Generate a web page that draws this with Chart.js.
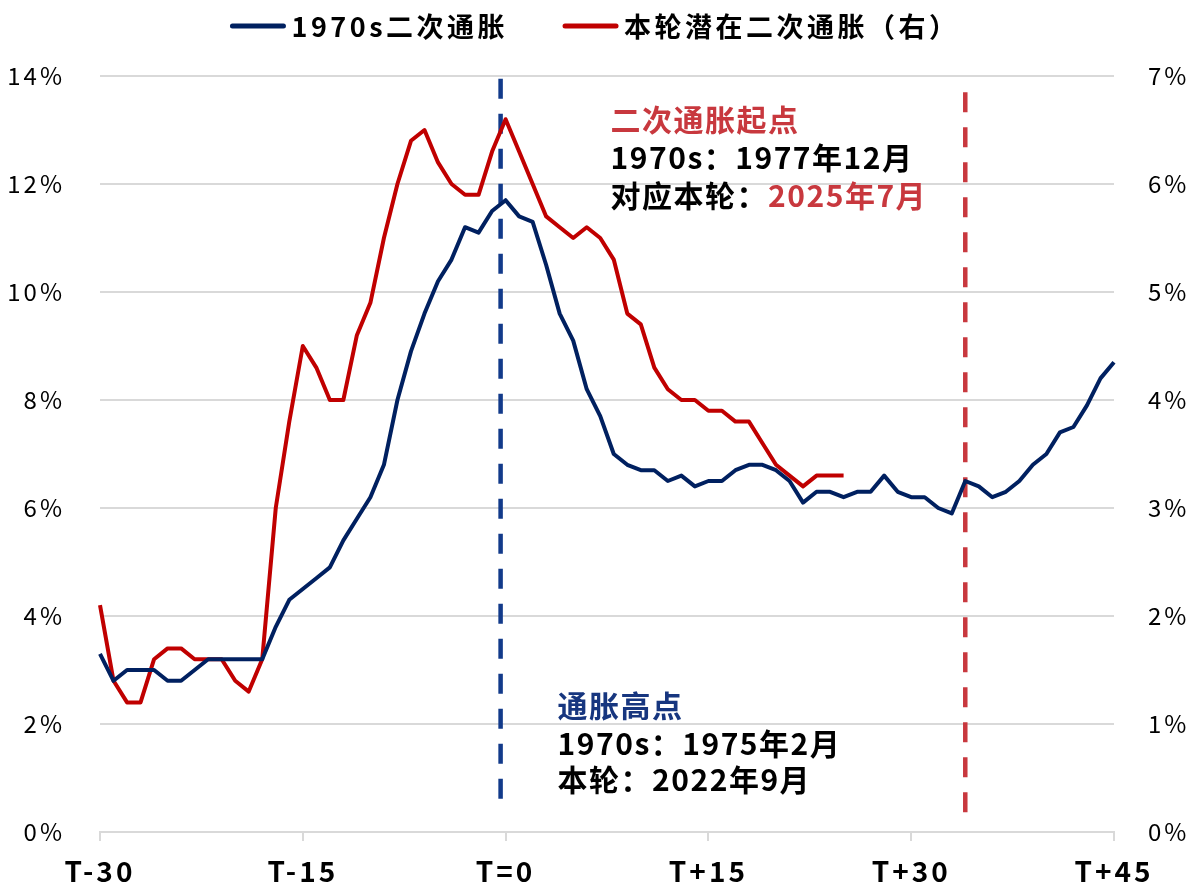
<!DOCTYPE html>
<html>
<head>
<meta charset="utf-8">
<script src="https://cdn.jsdelivr.net/npm/chart.js@4.4.1/dist/chart.umd.min.js"></script>
<style>
  html, body { margin: 0; background: #fff; }
  #wrap { width: 1190px; height: 882px; }
</style>
</head>
<body>
<div id="wrap"><canvas id="chart"></canvas></div>
<script>
// months relative to the start of the second-round inflation
const categories = [
  'T-30','T-29','T-28','T-27','T-26','T-25','T-24','T-23','T-22','T-21',
  'T-20','T-19','T-18','T-17','T-16','T-15','T-14','T-13','T-12','T-11',
  'T-10','T-9','T-8','T-7','T-6','T-5','T-4','T-3','T-2','T-1',
  'T=0','T+1','T+2','T+3','T+4','T+5','T+6','T+7','T+8','T+9',
  'T+10','T+11','T+12','T+13','T+14','T+15','T+16','T+17','T+18','T+19',
  'T+20','T+21','T+22','T+23','T+24','T+25','T+26','T+27','T+28','T+29',
  'T+30','T+31','T+32','T+33','T+34','T+35','T+36','T+37','T+38','T+39',
  'T+40','T+41','T+42','T+43','T+44','T+45'
];
const tickLabels = ['T-30', 'T-15', 'T=0', 'T+15', 'T+30', 'T+45'];

// 1970s CPI yoy, left axis (%)
const cpi1970s = [
  3.3, 2.8, 3.0, 3.0, 3.0, 2.8, 2.8, 3.0, 3.2, 3.2,
  3.2, 3.2, 3.2, 3.8, 4.3, 4.5, 4.7, 4.9, 5.4, 5.8,
  6.2, 6.8, 8.0, 8.9, 9.6, 10.2, 10.6, 11.2, 11.1, 11.5,
  11.7, 11.4, 11.3, 10.5, 9.6, 9.1, 8.2, 7.7, 7.0, 6.8,
  6.7, 6.7, 6.5, 6.6, 6.4, 6.5, 6.5, 6.7, 6.8, 6.8,
  6.7, 6.5, 6.1, 6.3, 6.3, 6.2, 6.3, 6.3, 6.6, 6.3,
  6.2, 6.2, 6.0, 5.9, 6.5, 6.4, 6.2, 6.3, 6.5, 6.8,
  7.0, 7.4, 7.5, 7.9, 8.4, 8.7
];

// current round CPI yoy, right axis (%)
const cpiCurrent = [
  2.1, 1.4, 1.2, 1.2, 1.6, 1.7, 1.7, 1.6, 1.6, 1.6,
  1.4, 1.3, 1.6, 3.0, 3.8, 4.5, 4.3, 4.0, 4.0, 4.6,
  4.9, 5.5, 6.0, 6.4, 6.5, 6.2, 6.0, 5.9, 5.9, 6.3,
  6.6, 6.3, 6.0, 5.7, 5.6, 5.5, 5.6, 5.5, 5.3, 4.8,
  4.7, 4.3, 4.1, 4.0, 4.0, 3.9, 3.9, 3.8, 3.8, 3.6,
  3.4, 3.3, 3.2, 3.3, 3.3, 3.3
];

const seriesNames = ['1970s二次通胀', '本轮潜在二次通胀（右）'];
const seriesColors = ['#002060', '#C00000'];

// vertical markers: category index, colour, top / bottom on left axis (%)
const markerIndex = [30, 64];
const markerColors = ['#123A8A', '#C8383E'];
const markerTop = [13.95, 13.7];
const markerBottom = [0.35, 0.2];

const FONT = '"Noto Sans CJK SC", "Noto Sans", sans-serif';

const overlay = {
  id: 'overlay',
  beforeDraw(chart) {
    // wider spacing for the axis labels, like the original
    chart.ctx.letterSpacing = '3px';
  },
  beforeDatasetsDraw(chart) {
    const ctx = chart.ctx;
    ctx.letterSpacing = '0px';
    const xs = chart.scales.x, ys = chart.scales.y;
    ctx.save();
    ctx.lineWidth = 4.5;
    ctx.setLineDash([20, 15]);
    markerIndex.forEach((idx, i) => {
      const x = xs.getPixelForValue(idx) - (i === 0 ? 5 : 0);
      ctx.strokeStyle = markerColors[i];
      ctx.beginPath();
      ctx.moveTo(x, ys.getPixelForValue(markerTop[i]));
      ctx.lineTo(x, ys.getPixelForValue(markerBottom[i]));
      ctx.stroke();
    });
    ctx.restore();
  },
  afterDraw(chart) {
    const ctx = chart.ctx;
    const xs = chart.scales.x;
    const x0 = xs.getPixelForValue(30);
    ctx.save();
    ctx.textBaseline = 'middle';
    ctx.textAlign = 'left';
    ctx.font = 'bold 30px ' + FONT;
    ctx.letterSpacing = '1.5px';

    // second-round start note
    let tx = x0 + 105;
    ctx.fillStyle = '#C8383E';
    ctx.fillText('二次通胀起点', tx, 120);
    ctx.fillStyle = '#000';
    ctx.fillText('1970s：1977年12月', tx, 158);
    const pre = '对应本轮：';
    ctx.fillText(pre, tx, 196);
    ctx.fillStyle = '#C8383E';
    ctx.fillText('2025年7月', tx + ctx.measureText(pre).width, 196);

    // peak note
    tx = x0 + 52;
    ctx.fillStyle = '#17367F';
    ctx.fillText('通胀高点', tx, 706);
    ctx.fillStyle = '#000';
    ctx.fillText('1970s：1975年2月', tx, 744);
    ctx.fillText('本轮：2022年9月', tx, 780);

    // legend
    ctx.font = 'bold 27px ' + FONT;
    ctx.letterSpacing = '3.5px';
    const lineW = 55, gapText = 6, gapItem = 55;
    const widths = seriesNames.map(t => ctx.measureText(t).width);
    const total = widths.reduce((a, w) => a + lineW + gapText + w, 0) + gapItem;
    let lx = chart.width / 2 - total / 2;
    const ly = 26;
    seriesNames.forEach((name, i) => {
      ctx.strokeStyle = seriesColors[i];
      ctx.lineWidth = 5;
      ctx.lineCap = 'round';
      ctx.beginPath();
      ctx.moveTo(lx + 2, ly);
      ctx.lineTo(lx + lineW - 2, ly);
      ctx.stroke();
      ctx.fillStyle = '#000';
      ctx.fillText(name, lx + lineW + gapText, ly + 1);
      lx += lineW + gapText + widths[i] + gapItem;
    });
    ctx.restore();
  }
};

new Chart(document.getElementById('chart'), {
  type: 'line',
  data: {
    labels: categories,
    datasets: [
      {
        label: seriesNames[0],
        data: cpi1970s,
        yAxisID: 'y',
        borderColor: seriesColors[0],
        backgroundColor: seriesColors[0],
        borderWidth: 4,
        pointRadius: 0,
        tension: 0,
        borderJoinStyle: 'round'
      },
      {
        label: seriesNames[1],
        data: cpiCurrent,
        yAxisID: 'y1',
        borderColor: seriesColors[1],
        backgroundColor: seriesColors[1],
        borderWidth: 4,
        pointRadius: 0,
        tension: 0,
        borderJoinStyle: 'round'
      }
    ]
  },
  options: {
    responsive: true,
    maintainAspectRatio: false,
    animation: false,
    layout: { padding: { top: 76, left: 0, right: 0, bottom: 0 } },
    plugins: {
      legend: { display: false },
      tooltip: { enabled: false }
    },
    scales: {
      x: {
        offset: false,
        afterBuildTicks(scale) {
          scale.ticks = scale.ticks.filter(t => tickLabels.includes(categories[t.value]));
        },
        afterFit(scale) { scale.height = 50; },
        grid: {
          drawOnChartArea: false,
          drawTicks: true,
          tickLength: 9,
          color: '#d9d9d9',
          lineWidth: 2
        },
        border: { color: '#d9d9d9', width: 2 },
        ticks: {
          autoSkip: false,
          maxRotation: 0,
          padding: 14,
          color: '#000',
          font: { family: FONT, size: 28, weight: 'bold' },
          callback(v) { return categories[v]; }
        }
      },
      y: {
        position: 'left',
        min: 0,
        max: 14,
        afterFit(scale) { scale.width = 100; },
        grid: { color: '#d9d9d9', lineWidth: 2, drawTicks: false },
        border: { display: false },
        ticks: {
          stepSize: 2,
          padding: 35,
          color: '#000',
          font: { family: FONT, size: 24 },
          callback: v => v + '%'
        }
      },
      y1: {
        position: 'right',
        min: 0,
        max: 7,
        afterFit(scale) { scale.width = 76; },
        grid: { drawOnChartArea: false, drawTicks: false },
        border: { display: false },
        ticks: {
          stepSize: 1,
          padding: 34,
          color: '#000',
          font: { family: FONT, size: 24 },
          callback: v => v + '%'
        }
      }
    }
  },
  plugins: [overlay]
});
</script>
</body>
</html>
